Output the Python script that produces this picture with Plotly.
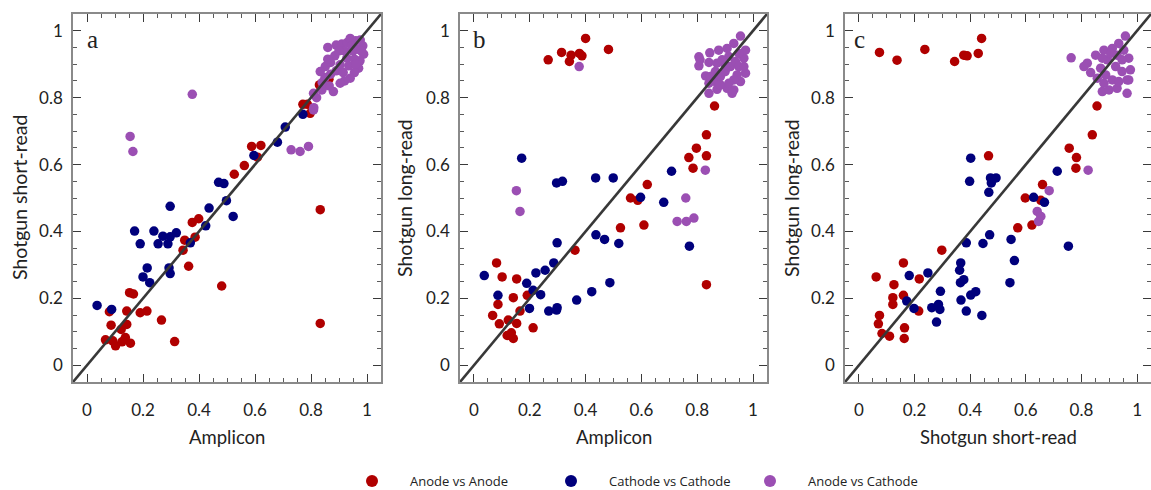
import plotly.graph_objects as go

# ---------------- data ----------------
# Panel a: Amplicon (x) vs Shotgun short-read (y)
a_aa_x = [0.080,0.086,0.066,0.092,0.102,0.122,0.137,0.125,0.155,0.142,0.142,0.152,0.166,0.190,0.214,0.266,0.313,0.343,0.349,0.363,0.376,0.386,0.399,0.481,0.526,0.562,0.588,0.621,0.609,0.771,0.787,0.797,0.830,0.864,0.833,0.833]
a_aa_y = [0.160,0.120,0.076,0.073,0.058,0.107,0.083,0.070,0.066,0.162,0.122,0.217,0.213,0.157,0.162,0.135,0.071,0.344,0.374,0.296,0.427,0.383,0.438,0.237,0.571,0.597,0.654,0.657,0.622,0.780,0.780,0.753,0.838,0.855,0.465,0.125]
a_cc_x = [0.036,0.088,0.170,0.190,0.200,0.215,0.224,0.239,0.254,0.271,0.289,0.297,0.319,0.297,0.293,0.297,0.369,0.424,0.436,0.470,0.489,0.498,0.522,0.596,0.680,0.708,0.771]
a_cc_y = [0.179,0.167,0.401,0.363,0.264,0.291,0.247,0.401,0.363,0.386,0.363,0.384,0.396,0.475,0.291,0.274,0.366,0.417,0.470,0.547,0.543,0.492,0.445,0.627,0.667,0.712,0.750]
a_ac_x = [0.154,0.164,0.376,0.729,0.761,0.791,0.809,
          0.860,0.890,0.910,0.930,0.940,0.960,0.976,0.985,0.988,0.975,0.970,0.955,0.940,0.920,0.904,0.880,0.865,0.850,0.851,0.833,0.839,0.809,0.810,0.820,0.928,0.904,0.950,0.920,0.885,0.870,0.890,0.915,0.935,0.955,0.965,0.900,0.870,0.840,0.860,0.945,0.980,0.960]
a_ac_y = [0.684,0.639,0.810,0.644,0.639,0.654,0.763,
          0.950,0.957,0.960,0.965,0.977,0.970,0.972,0.955,0.930,0.910,0.888,0.875,0.858,0.850,0.843,0.818,0.835,0.860,0.893,0.878,0.823,0.813,0.770,0.800,0.918,0.898,0.940,0.940,0.925,0.905,0.880,0.875,0.895,0.915,0.945,0.940,0.870,0.845,0.915,0.955,0.940,0.900]

# Panel b: Amplicon (x) vs Shotgun long-read (y)
b_aa_x = [0.266,0.314,0.342,0.348,0.378,0.387,0.400,0.482,0.081,0.101,0.067,0.086,0.091,0.123,0.119,0.134,0.141,0.141,0.153,0.153,0.165,0.191,0.212,0.362,0.525,0.561,0.587,0.609,0.621,0.770,0.785,0.797,0.833,0.833,0.833,0.862]
b_aa_y = [0.913,0.935,0.908,0.927,0.932,0.925,0.977,0.944,0.306,0.264,0.149,0.182,0.124,0.135,0.089,0.097,0.080,0.202,0.258,0.125,0.162,0.209,0.112,0.344,0.411,0.500,0.493,0.419,0.540,0.621,0.589,0.649,0.689,0.626,0.241,0.775]
b_cc_x = [0.037,0.086,0.171,0.189,0.199,0.212,0.222,0.239,0.255,0.268,0.286,0.296,0.298,0.298,0.296,0.317,0.368,0.422,0.436,0.437,0.468,0.487,0.499,0.519,0.597,0.680,0.708,0.772]
b_cc_y = [0.268,0.209,0.619,0.245,0.170,0.224,0.276,0.211,0.284,0.162,0.306,0.165,0.172,0.366,0.545,0.550,0.195,0.220,0.560,0.390,0.376,0.247,0.560,0.364,0.502,0.487,0.580,0.356]
b_ac_x = [0.377,0.152,0.165,0.728,0.761,0.759,0.788,0.829,
          0.955,0.931,0.907,0.877,0.845,0.806,0.806,0.810,0.842,0.830,0.842,0.842,0.871,0.865,0.883,0.900,0.919,0.937,0.967,0.973,0.973,0.955,0.931,0.907,0.925,0.900,0.871,0.913,0.949,0.943,0.889,0.931,0.913,0.949,0.967,0.883,0.865,0.848]
b_ac_y = [0.893,0.522,0.460,0.430,0.430,0.500,0.440,0.583,
          0.984,0.962,0.947,0.942,0.934,0.922,0.895,0.913,0.905,0.865,0.843,0.813,0.825,0.848,0.863,0.878,0.893,0.908,0.918,0.942,0.873,0.848,0.823,0.828,0.813,0.898,0.903,0.923,0.932,0.868,0.913,0.853,0.843,0.893,0.893,0.838,0.878,0.863]

# Panel c: Shotgun short-read (x) vs Shotgun long-read (y)
c_aa_x = [0.074,0.137,0.237,0.344,0.377,0.389,0.429,0.441,0.062,0.070,0.074,0.083,0.110,0.126,0.122,0.122,0.160,0.160,0.164,0.163,0.217,0.215,0.298,0.466,0.571,0.598,0.622,0.654,0.660,0.756,0.782,0.780,0.839,0.856]
c_aa_y = [0.935,0.912,0.944,0.908,0.927,0.925,0.932,0.977,0.264,0.124,0.149,0.095,0.087,0.241,0.202,0.182,0.306,0.209,0.112,0.080,0.258,0.162,0.344,0.626,0.411,0.500,0.419,0.493,0.540,0.649,0.621,0.589,0.689,0.775]
c_cc_x = [0.181,0.172,0.198,0.248,0.262,0.279,0.286,0.291,0.293,0.362,0.366,0.365,0.377,0.367,0.386,0.386,0.398,0.402,0.402,0.420,0.442,0.446,0.467,0.470,0.473,0.476,0.493,0.543,0.547,0.559,0.628,0.667,0.713,0.753]
c_cc_y = [0.268,0.192,0.170,0.276,0.172,0.129,0.182,0.167,0.221,0.284,0.306,0.247,0.256,0.195,0.162,0.366,0.550,0.619,0.210,0.220,0.149,0.364,0.517,0.390,0.560,0.545,0.560,0.247,0.376,0.313,0.502,0.487,0.580,0.356]
c_ac_x = [0.641,0.646,0.654,0.684,0.763,0.824,
          0.958,0.934,0.881,0.851,0.821,0.809,0.833,0.857,0.875,0.899,0.928,0.964,0.970,0.976,0.970,0.952,0.911,0.893,0.923,0.946,0.887,0.911,0.934,0.869,0.881,0.946,0.964,0.905,0.875,0.928]
c_ac_y = [0.460,0.430,0.445,0.522,0.919,0.583,
          0.984,0.962,0.942,0.927,0.903,0.893,0.875,0.858,0.818,0.823,0.828,0.813,0.853,0.883,0.918,0.942,0.947,0.913,0.893,0.878,0.868,0.853,0.848,0.888,0.843,0.913,0.853,0.932,0.918,0.927]

series_names = ["Anode vs Anode", "Cathode vs Cathode", "Anode vs Cathode"]
panel_letters = ["a", "b", "c"]
x_titles = ["Amplicon", "Amplicon", "Shotgun short-read"]
y_titles = ["Shotgun short-read", "Shotgun long-read", "Shotgun long-read"]
axis_range = [-0.05, 1.05]

panels = [
    [(a_aa_x, a_aa_y), (a_cc_x, a_cc_y), (a_ac_x, a_ac_y)],
    [(b_aa_x, b_aa_y), (b_cc_x, b_cc_y), (b_ac_x, b_ac_y)],
    [(c_aa_x, c_aa_y), (c_cc_x, c_cc_y), (c_ac_x, c_ac_y)],
]

# ---------------- style ----------------
W, H = 1151, 490
colors = ["#b00000", "#00007c", "#9b4fb3"]
FONT = "Lato"
x_domains = [(73 / W, 381 / W), (460 / W, 767 / W), (845 / W, 1.0)]
y_domain = ((H - 382) / H, (H - 14) / H)

fig = go.Figure()

for i, panel in enumerate(panels):
    xa = "x" if i == 0 else f"x{i+1}"
    ya = "y" if i == 0 else f"y{i+1}"
    for j, (xs, ys) in enumerate(panel):
        fig.add_trace(go.Scatter(
            x=xs, y=ys, mode="markers", xaxis=xa, yaxis=ya,
            name=series_names[j], legendgroup=series_names[j],
            showlegend=(i == 0),
            marker=dict(color=colors[j], size=9.5, line=dict(width=0)),
        ))
    # identity line
    fig.add_trace(go.Scatter(
        x=axis_range, y=axis_range, mode="lines", xaxis=xa, yaxis=ya,
        showlegend=False, hoverinfo="skip",
        line=dict(color="#383838", width=2.6),
    ))

axis_common = dict(
    range=axis_range, showgrid=False, zeroline=False,
    showline=True, linecolor="#8a8a8a", linewidth=1.6, mirror="ticks",
    ticks="inside", ticklen=8, tickwidth=1.4, tickcolor="#3a3a3a",
    dtick=0.2, tick0=0,
    minor=dict(dtick=0.05, ticks="inside", ticklen=4, tickwidth=1.2, tickcolor="#5a5a5a"),
    tickfont=dict(family=FONT, size=17, color="#222222"),
    automargin=False,
)

layout = dict(
    width=W, height=H,
    margin=dict(l=0, r=0, t=0, b=0, autoexpand=False),
    paper_bgcolor="white", plot_bgcolor="white",
    font=dict(family=FONT, color="#222222"),
    showlegend=True,
    legend=dict(
        orientation="h", x=334 / W, xanchor="left", y=-6 / H, yanchor="bottom",
        font=dict(family="Open Sans", size=13, color="#222222"),
        itemsizing="constant", itemwidth=66,
        entrywidth=118, entrywidthmode="pixels",
        bgcolor="rgba(0,0,0,0)",
    ),
)

annotations = []
for i in range(3):
    sx = "" if i == 0 else str(i + 1)
    layout["xaxis" + sx] = dict(axis_common, domain=list(x_domains[i]), anchor="y" + sx,
                                ticklabelstandoff=12)
    layout["yaxis" + sx] = dict(axis_common, domain=list(y_domain), anchor="x" + sx,
                                ticklabelstandoff=5)
    cx = (x_domains[i][0] + x_domains[i][1]) / 2
    if i == 2:
        cx = (845 + 1152) / 2 / W
    annotations.append(dict(text=x_titles[i], xref="paper", yref="paper",
                            x=cx, y=(H - 437) / H, xanchor="center", yanchor="middle",
                            showarrow=False, font=dict(family=FONT, size=18.5, color="#222222")))
    ytitle_x = [20, 405, 792][i]
    annotations.append(dict(text=y_titles[i], xref="paper", yref="paper",
                            x=ytitle_x / W, y=(H - 198) / H, xanchor="center", yanchor="middle",
                            textangle=-90, showarrow=False,
                            font=dict(family=FONT, size=19.5, color="#222222")))
    letter_x = [92, 480, 860][i]
    annotations.append(dict(text=panel_letters[i], xref="paper", yref="paper",
                            x=letter_x / W, y=(H - 40) / H, xanchor="center", yanchor="middle",
                            showarrow=False,
                            font=dict(family="Liberation Serif", size=25, color="#222222")))

layout["annotations"] = annotations
fig.update_layout(**layout)

fig.write_html("out.html")
